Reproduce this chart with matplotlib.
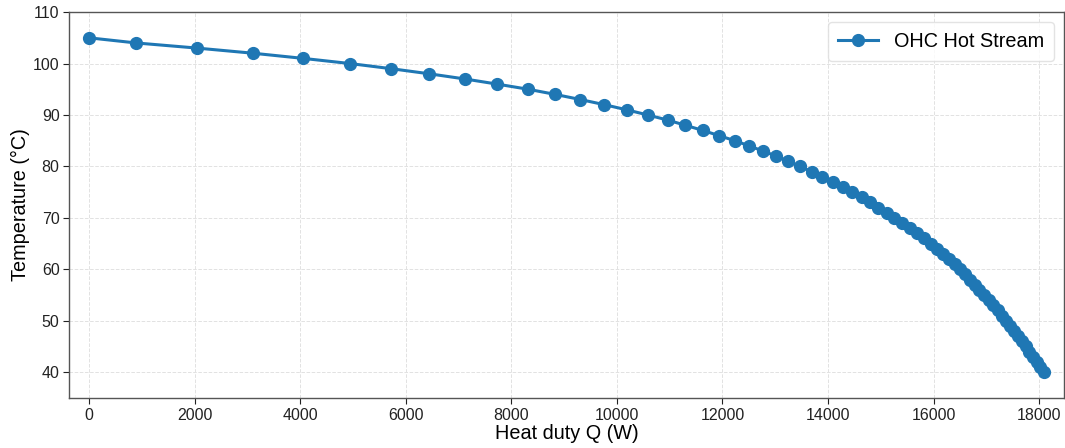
import matplotlib
matplotlib.use('Agg')
import matplotlib.pyplot as plt

plt.rcParams['font.family'] = ['Liberation Sans', 'DejaVu Sans']

# Hot stream temperature (degC) vs cumulative heat duty (W)
temp_c = [105, 104, 103, 102, 101, 100, 99, 98, 97, 96, 95, 94, 93, 92, 91, 90,
          89, 88, 87, 86, 85, 84, 83, 82, 81, 80, 79, 78, 77, 76, 75, 74, 73,
          72, 71, 70, 69, 68, 67, 66, 65, 64, 63, 62, 61, 60, 59, 58, 57, 56,
          55, 54, 53, 52, 51, 50, 49, 48, 47, 46, 45, 44, 43, 42, 41, 40]
q_watts = [0, 894, 2049, 3110, 4057, 4941, 5723, 6449, 7119, 7731, 8318, 8830,
           9309, 9763, 10187, 10585, 10964, 11297, 11627, 11930, 12233, 12504,
           12763, 13021, 13248, 13464, 13691, 13892, 14089, 14278, 14460, 14638,
           14801, 14953, 15117, 15256, 15402, 15553, 15691, 15824, 15945, 16070,
           16184, 16292, 16405, 16500, 16595, 16689, 16780, 16870, 16958, 17045,
           17131, 17215, 17297, 17377, 17453, 17528, 17601, 17673, 17744, 17814,
           17883, 17951, 18018, 18084]

fig = plt.figure(figsize=(10.65, 4.48), dpi=100)
ax = fig.add_axes([0.065, 0.112, 0.934, 0.861])

ax.plot(q_watts, temp_c, '-o', color='#1f77b4', lw=2.2, ms=8.5,
        label='OHC Hot Stream')

ax.set_xlim(-375, 18470)
ax.set_ylim(35, 110)
ax.set_xticks(range(0, 18001, 2000))
ax.set_yticks(range(40, 111, 10))
ax.tick_params(labelsize=11.5, colors='#222222', length=4, width=0.8, pad=3)
ax.set_xlabel('Heat duty Q (W)', fontsize=14.3, labelpad=1)
ax.set_ylabel('Temperature (°C)', fontsize=14.3, labelpad=2)
ax.grid(True, ls='--', lw=0.7, color='#e2e2e2')
for s in ax.spines.values():
    s.set_color('#555555')
    s.set_linewidth(1.0)

ax.legend(loc='upper right', fontsize=14.3, frameon=True, edgecolor='#dddddd',
          fancybox=True, handlelength=2.0, borderpad=0.5)

fig.savefig('out.png', dpi=100)
plt.close(fig)
